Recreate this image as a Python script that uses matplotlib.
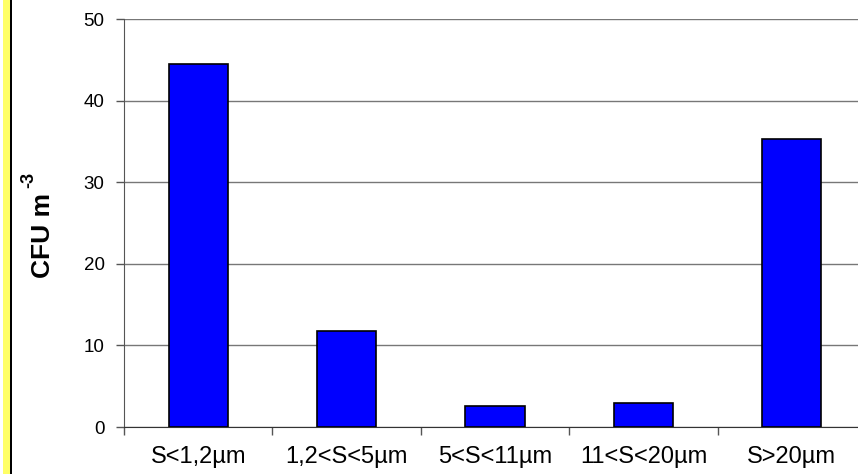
import matplotlib.pyplot as plt
import numpy as np
from matplotlib.patches import Rectangle

plt.rcParams['font.family'] = ['Liberation Sans', 'DejaVu Sans']

# particle size fractions and counts
categories = ["S<1,2µm", "1,2<S<5µm", "5<S<11µm", "11<S<20µm", "S>20µm"]
cfu = [44.5, 11.8, 2.6, 3.0, 35.3]

W, H = 858, 474
fig = plt.figure(figsize=(W / 100, H / 100), dpi=100)

# yellow side strip
fig.patches.append(Rectangle((3 / W, 0), 7 / W, 1, transform=fig.transFigure,
                             facecolor="#ffff66", edgecolor="none"))
fig.patches.append(Rectangle((10 / W, 0), 1.5 / W, 1, transform=fig.transFigure,
                             facecolor="black", edgecolor="none"))

x0, x1 = 124, 866
y_top, y_bot = 19, 427
ax = fig.add_axes([x0 / W, 1 - y_bot / H, (x1 - x0) / W, (y_bot - y_top) / H])

x = np.arange(len(categories))
ax.bar(x, cfu, width=0.4, color="#0000ff", edgecolor="black", linewidth=1.2, zorder=3)

ax.set_xlim(-0.5, len(categories) - 0.5)
ax.set_ylim(0, 50)
ax.set_yticks(np.arange(0, 51, 10))
ax.yaxis.grid(True, color="#777777", linewidth=1.0)
ax.set_axisbelow(True)

ax.set_xticks(x)
ax.set_xticklabels(categories, fontsize=17)
ax.set_xticks(np.arange(-0.5, len(categories), 1), minor=True)
ax.tick_params(axis="x", which="major", length=0, pad=14)
ax.tick_params(axis="x", which="minor", length=6, color="#555555", width=1)
ax.tick_params(axis="y", length=6, color="#555555", width=1, labelsize=13.5, pad=8)

for s in ["top", "right"]:
    ax.spines[s].set_visible(False)
ax.spines["left"].set_color("#555555")
ax.spines["bottom"].set_color("#333333")

# y axis title with a hyphen-style exponent
fig.text(43 / W, 1 - 236 / H, "CFU m", rotation=90, fontsize=19, fontweight="bold",
         ha="center", va="center")
fig.text(29 / W, 1 - 180 / H, "-3", rotation=90, fontsize=13, fontweight="bold",
         ha="center", va="center")

fig.savefig("out.png", dpi=100)
